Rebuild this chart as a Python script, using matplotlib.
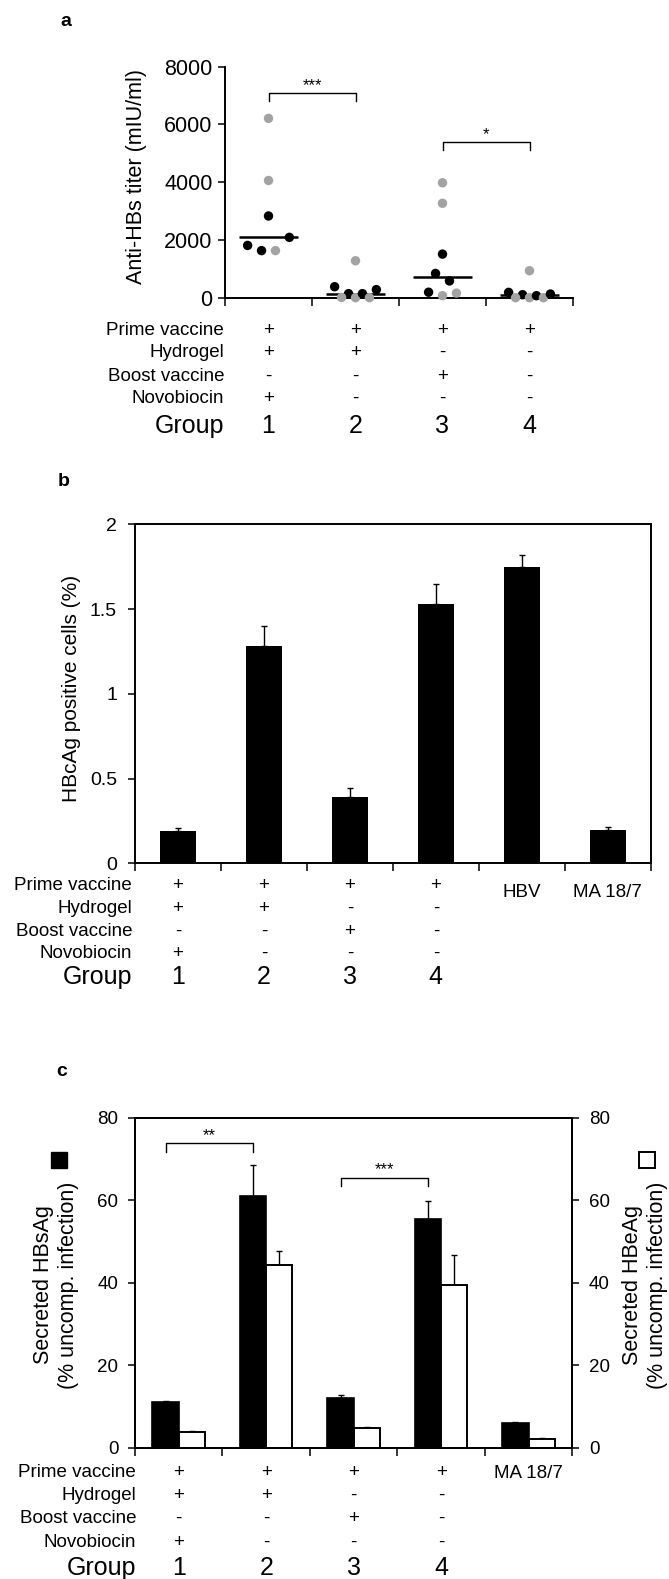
import numpy as np
import matplotlib.pyplot as plt

plt.rcParams['font.family'] = ['Liberation Sans', 'DejaVu Sans']

# ---- data ----
groups = ['1', '2', '3', '4']
row_labels = ['Prime vaccine', 'Hydrogel', 'Boost vaccine', 'Novobiocin']
prime = ['+', '+', '+', '+']
hydrogel = ['+', '+', '-', '-']
boost = ['-', '-', '+', '-']
novobiocin = ['+', '-', '-', '-']

# panel a: anti-HBs titers per group, gray flag, swarm slot
a_titers = [[6210, 4060, 2830, 1810, 1630, 1630, 2090],
            [1280, 380, 140, 10, 0, 140, 0, 280],
            [3980, 3270, 1510, 840, 580, 190, 70, 160],
            [935, 185, 104, 0, 0, 69, 0, 127]]
a_gray = [[1, 1, 0, 0, 0, 1, 0],
          [1, 0, 0, 1, 1, 0, 1, 0],
          [1, 1, 0, 0, 0, 0, 1, 1],
          [1, 0, 0, 1, 1, 0, 1, 0]]
a_slot = [[0, 0, 0, -3, -1, 1, 3],
          [0, -3, -1, -2, 0, 1, 2, 3],
          [0, 0, 0, -1, 1, -2, 0, 2],
          [0, -3, -1, -2, 0, 1, 2, 3]]

# panel b: HBcAg positive cells (%)
b_cats = ['1', '2', '3', '4', 'HBV', 'MA 18/7']
b_vals = [0.19, 1.28, 0.39, 1.53, 1.75, 0.195]
b_err = [0.02, 0.12, 0.055, 0.12, 0.07, 0.018]

# panel c: secreted HBsAg (black) / HBeAg (white)
c_cats = ['1', '2', '3', '4', 'MA 18/7']
c_hbs = [11.1, 61.1, 12.0, 55.4, 6.0]
c_hbs_err = [0.2, 7.4, 0.7, 4.5, 0.2]
c_hbe = [3.9, 44.2, 4.7, 39.4, 2.2]
c_hbe_err = [0.2, 3.5, 0.2, 7.3, 0.2]

W, H = 669, 1579
fig = plt.figure(figsize=(W / 100, H / 100), dpi=100)


def box(l, t, r, b):
    return [l / W, 1 - b / H, (r - l) / W, (b - t) / H]


def bracket(ax, x1, x2, y_top, drop, label, fs=12):
    ax.plot([x1, x1, x2, x2], [y_top - drop, y_top, y_top, y_top - drop],
            color='black', lw=1.0, clip_on=False)
    ax.text((x1 + x2) / 2, y_top, label, ha='center', va='bottom', fontsize=fs)


def table(ax, xs, offsets, dx, extra=None):
    rows = [prime, hydrogel, boost, novobiocin]
    for label, marks, off in zip(row_labels, rows, offsets[:4]):
        ax.annotate(label, xy=(0, 0), xycoords='axes fraction', xytext=(dx, -off),
                    textcoords='offset pixels', ha='right', va='center', fontsize=13.5)
        for x, m in zip(xs, marks):
            ax.annotate(m, xy=(x, 0), xycoords=('data', 'axes fraction'), xytext=(0, -off),
                        textcoords='offset pixels', ha='center', va='center', fontsize=13.5)
    ax.annotate('Group', xy=(0, 0), xycoords='axes fraction', xytext=(dx, -offsets[4]),
                textcoords='offset pixels', ha='right', va='center', fontsize=18)
    for x, g in zip(xs, groups):
        ax.annotate(g, xy=(x, 0), xycoords=('data', 'axes fraction'), xytext=(0, -offsets[4]),
                    textcoords='offset pixels', ha='center', va='center', fontsize=18)
    if extra:
        for x, txt, off in extra:
            ax.annotate(txt, xy=(x, 0), xycoords=('data', 'axes fraction'), xytext=(0, -off),
                        textcoords='offset pixels', ha='center', va='center', fontsize=13.5)


def style(ax, labelsize, pad):
    for s in ax.spines.values():
        s.set_linewidth(1.4)
    ax.tick_params(axis='y', direction='out', length=5, width=1.1, labelsize=labelsize, pad=pad)
    ax.tick_params(axis='x', direction='out', length=5.5, width=1.1, labelbottom=False)


# ---- panel a ----
ax = fig.add_axes(box(225, 66.7, 573, 297.7))
pos_a = np.arange(1, len(groups) + 1)
for g, vals, gray, slot in zip(pos_a, a_titers, a_gray, a_slot):
    vals = np.array(vals)
    xs = g + 0.08 * np.array(slot)
    cols = ['#a3a3a3' if k else 'black' for k in gray]
    ax.hlines(np.median(vals), g - 0.34, g + 0.34, color='black', lw=1.8, zorder=2)
    ax.scatter(xs, vals, s=46, c=cols, zorder=3, clip_on=False, linewidths=0)
ax.set_xlim(0.5, 4.5)
ax.set_ylim(0, 8000)
ax.set_xticks(np.arange(0.5, 4.6, 1))
ax.set_yticks([0, 2000, 4000, 6000, 8000])
ax.spines['top'].set_visible(False)
ax.spines['right'].set_visible(False)
style(ax, 15.5, 4)
bracket(ax, 1, 2, 7080, 270, '***')
bracket(ax, 3, 4, 5400, 290, '*')
ax.text(-0.253, 0.524, 'Anti-HBs titer (mIU/ml)', transform=ax.transAxes, rotation=90,
        ha='center', va='center', fontsize=15.5)
table(ax, pos_a, [33, 55, 79, 101, 128], -1)
fig.text(66 / W, 1 - 21.7 / H, 'a', fontsize=14, fontweight='bold', ha='center', va='center')

# ---- panel b ----
ax = fig.add_axes(box(135, 524.3, 650.7, 863.3))
pos_b = np.arange(1, len(b_cats) + 1)
ax.bar(pos_b, b_vals, width=0.42, color='black', zorder=2)
ax.errorbar(pos_b, b_vals, yerr=[np.zeros(len(b_err)), b_err], fmt='none', ecolor='black',
            elinewidth=1.0, capsize=2.2, capthick=1.0, zorder=1)
ax.set_xlim(0.5, 6.5)
ax.set_ylim(0, 2)
ax.set_xticks(np.arange(0.5, 6.6, 1))
ax.set_yticks([0, 0.5, 1, 1.5, 2])
ax.set_yticklabels(['0', '0.5', '1', '1.5', '2'])
style(ax, 14, 8)
ax.text(-0.1222, 0.516, 'HBcAg positive cells (%)', transform=ax.transAxes, rotation=90,
        ha='center', va='center', fontsize=15)
table(ax, pos_b[:4], [22, 45, 68, 90, 114], -3,
      extra=[(pos_b[4], b_cats[4], 29), (pos_b[5], b_cats[5], 29)])
fig.text(64 / W, 1 - 481.7 / H, 'b', fontsize=14, fontweight='bold', ha='center', va='center')

# ---- panel c ----
ax = fig.add_axes(box(135, 1117.7, 572.3, 1447.7))
pos_c = np.arange(1, len(c_cats) + 1)
bw = 0.30
ax.bar(pos_c - bw / 2, c_hbs, width=bw, color='black', edgecolor='black', lw=1.2, zorder=2)
ax.bar(pos_c + bw / 2, c_hbe, width=bw, color='white', edgecolor='black', lw=1.4, zorder=2)
ax.errorbar(pos_c - bw / 2, c_hbs, yerr=[np.zeros(5), c_hbs_err], fmt='none', ecolor='black',
            elinewidth=1.0, capsize=2.5, capthick=1.0, zorder=1)
ax.errorbar(pos_c + bw / 2, c_hbe, yerr=[np.zeros(5), c_hbe_err], fmt='none', ecolor='black',
            elinewidth=1.0, capsize=2.5, capthick=1.0, zorder=1)
ax.set_xlim(0.5, 5.5)
ax.set_ylim(0, 80)
ax.set_xticks(np.arange(0.5, 5.6, 1))
ax.set_yticks([0, 20, 40, 60, 80])
style(ax, 13.5, 7)
ax2 = ax.twinx()
ax2.set_ylim(0, 80)
ax2.set_yticks([0, 20, 40, 60, 80])
ax2.tick_params(axis='y', direction='out', length=5, width=1.1, labelsize=13.5, pad=7)
for s in ax2.spines.values():
    s.set_linewidth(1.4)
bracket(ax, 1 - bw / 2, 2 - bw / 2, 73.8, 2.0, '**')
bracket(ax, 3 - bw / 2, 4 - bw / 2, 65.5, 2.1, '***')
ax.text(-0.1807, 0.493, 'Secreted HBsAg\n(% uncomp. infection)', transform=ax.transAxes,
        rotation=90, ha='center', va='center', fontsize=15.5, linespacing=1.25)
ax.text(1.166, 0.493, 'Secreted HBeAg\n(% uncomp. infection)', transform=ax.transAxes,
        rotation=90, ha='center', va='center', fontsize=15.5, linespacing=1.25)
ax.plot([-0.1738], [0.872], marker='s', ms=12, color='black', transform=ax.transAxes, clip_on=False)
ax.plot([1.1708], [0.872], marker='s', ms=11, mfc='white', mec='black', mew=1.4,
        transform=ax.transAxes, clip_on=False)
table(ax, pos_c[:4], [25, 48, 71, 95, 120], 1, extra=[(pos_c[4], c_cats[4], 26)])
fig.text(62 / W, 1 - 1071.7 / H, 'c', fontsize=14, fontweight='bold', ha='center', va='center')

fig.savefig('out.png', dpi=100)
